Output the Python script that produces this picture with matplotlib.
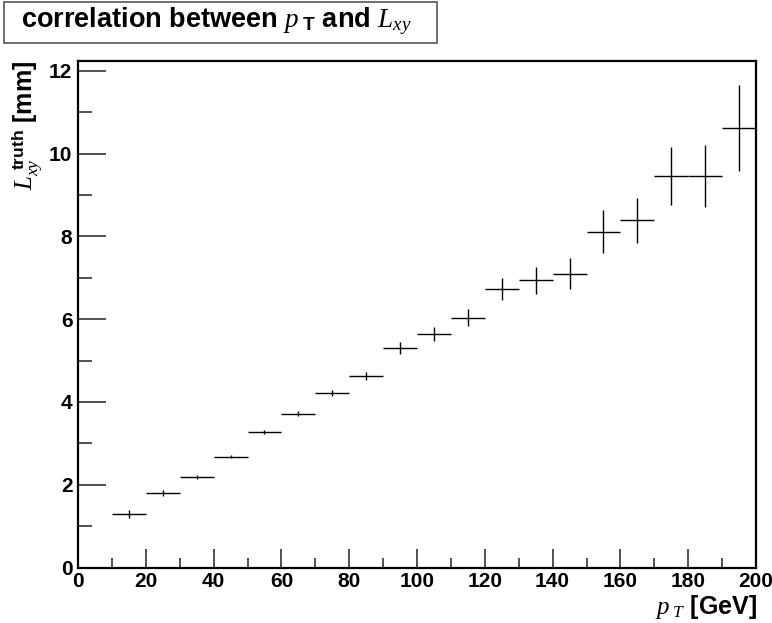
import numpy as np
import matplotlib.pyplot as plt
from matplotlib.patches import Rectangle
from matplotlib.ticker import MultipleLocator

plt.rcParams['font.family'] = ['Liberation Sans', 'DejaVu Sans']
plt.rcParams['mathtext.fontset'] = 'custom'
plt.rcParams['mathtext.it'] = 'Liberation Serif:italic:normal'
plt.rcParams['mathtext.rm'] = 'Liberation Serif:normal'
plt.rcParams['mathtext.bf'] = 'Liberation Sans:bold'

# profile: mean L_xy (truth) per pT bin
bin_lo = [10, 20, 30, 40, 50, 60, 70, 80, 90, 100,
          110, 120, 130, 140, 150, 160, 170, 180, 190]
bin_width = 10
lxy_mean = [1.29, 1.80, 2.19, 2.68, 3.27, 3.71, 4.22, 4.63, 5.30, 5.64,
            6.04, 6.73, 6.94, 7.10, 8.11, 8.39, 9.46, 9.46, 10.61]
lxy_err = [0.10, 0.07, 0.04, 0.04, 0.05, 0.06, 0.08, 0.10, 0.15, 0.17,
           0.21, 0.27, 0.33, 0.38, 0.52, 0.55, 0.70, 0.75, 1.04]

x = np.array(bin_lo) + bin_width / 2

fig = plt.figure(figsize=(7.72, 6.23), dpi=100, facecolor='white')
ax = fig.add_axes([78 / 772, 1 - 567.5 / 623, (756 - 78) / 772, (567.5 - 61) / 623])

ax.errorbar(x, lxy_mean, xerr=bin_width / 2, yerr=lxy_err, fmt='none',
            ecolor='black', elinewidth=1.0, capsize=0)

ax.set_xlim(0, 200)
ax.set_ylim(0, 12.24)
ax.xaxis.set_major_locator(MultipleLocator(20))
ax.xaxis.set_minor_locator(MultipleLocator(10))
ax.yaxis.set_major_locator(MultipleLocator(2))
ax.yaxis.set_minor_locator(MultipleLocator(1))
ax.tick_params(axis='both', which='both', direction='in', top=False, right=False,
               labelsize=15, width=1.2, color='#333333')
ax.tick_params(axis='x', which='major', length=14, pad=3)
ax.tick_params(axis='x', which='minor', length=7)
ax.tick_params(axis='y', which='major', length=20, pad=4)
ax.tick_params(axis='y', which='minor', length=10)
for lab in ax.get_xticklabels() + ax.get_yticklabels():
    lab.set_fontweight('bold')
for sp in ax.spines.values():
    sp.set_linewidth(1.6)

fig.text(757 / 772, 1 - 607 / 623, r'$p_{\;T}$ [GeV]', ha='right', va='center',
         fontsize=18, fontweight='bold')
fig.text(28 / 772, 1 - 61 / 623, r'$L_{xy}^{\mathbf{\ truth}}$ [mm]', ha='center',
         va='top', rotation=90, fontsize=18, fontweight='bold')

# title box
fig.patches.append(Rectangle((4 / 772, 1 - 43 / 623), 433 / 772, 41 / 623,
                             transform=fig.transFigure, facecolor='white',
                             edgecolor='#555555', linewidth=1.2))
fig.text(216 / 772, 1 - 21 / 623, r'correlation between $p_{\;\mathbf{T}}$ and $L_{xy}$',
         ha='center', va='center', fontsize=19.5, fontweight='bold')

plt.savefig('out.png', dpi=100)
